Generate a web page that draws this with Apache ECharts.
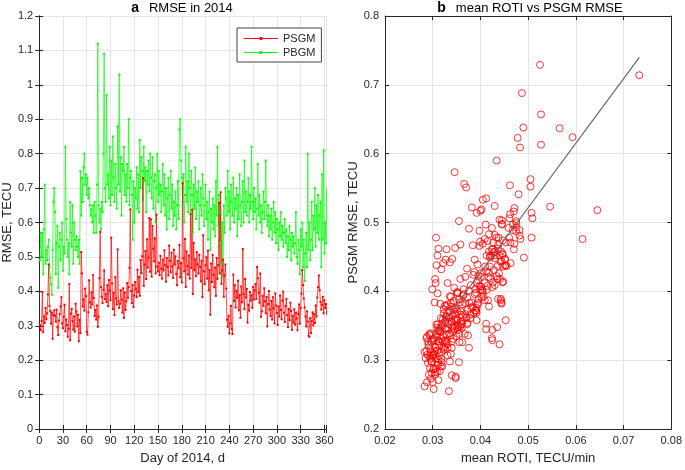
<!DOCTYPE html>
<html><head><meta charset="utf-8">
<script src="https://cdn.jsdelivr.net/npm/echarts@6/dist/echarts.min.js"></script>
<style>html,body{margin:0;padding:0;background:#fff}#c{width:685px;height:470px}</style>
</head><body><div id="c"></div>
<script>
// PSGM RMSE (TECU), day 1..365
const psgm = [
0.302,0.287,0.314,0.398,0.281,0.327,0.308,0.352,0.319,0.336,
0.391,0.478,0.358,0.343,0.306,0.338,0.262,0.331,0.345,0.329,
0.312,0.347,0.296,0.273,0.315,0.334,0.356,0.383,0.307,0.293,
0.326,0.361,0.284,0.318,0.302,0.268,0.291,0.421,0.258,0.335,
0.349,0.313,0.289,0.327,0.283,0.364,0.341,0.298,0.332,0.255,
0.317,0.279,0.514,0.452,0.356,0.377,0.344,0.408,0.386,0.282,
0.274,0.339,0.432,0.368,0.353,0.397,0.362,0.447,0.381,0.328,
0.346,0.318,0.359,0.297,0.326,0.438,0.573,0.412,0.384,0.366,
0.405,0.461,0.377,0.392,0.369,0.418,0.357,0.433,0.402,0.374,
0.556,0.423,0.348,0.396,0.331,0.441,0.379,0.362,0.522,0.371,
0.352,0.364,0.403,0.376,0.338,0.409,0.323,0.397,0.346,0.372,
0.424,0.381,0.412,0.468,0.638,0.401,0.366,0.419,0.354,0.388,
0.427,0.406,0.383,0.463,0.398,0.442,0.387,0.491,0.453,0.502,
0.729,0.416,0.478,0.517,0.436,0.551,0.469,0.498,0.613,0.457,
0.609,0.443,0.590,0.524,0.487,0.554,0.452,0.623,0.472,0.458,
0.483,0.447,0.503,0.466,0.437,0.492,0.461,0.519,0.476,0.428,
0.497,0.471,0.446,0.533,0.489,0.455,0.512,0.473,0.439,0.521,
0.478,0.502,0.451,0.418,0.488,0.467,0.535,0.441,0.482,0.426,
0.714,0.497,0.458,0.552,0.413,0.516,0.474,0.449,0.504,0.437,
0.624,0.468,0.637,0.392,0.541,0.461,0.493,0.444,0.514,0.478,
0.452,0.506,0.471,0.429,0.489,0.383,0.563,0.458,0.421,0.476,
0.499,0.437,0.518,0.403,0.462,0.332,0.481,0.427,0.506,0.448,
0.412,0.469,0.387,0.497,0.436,0.476,0.657,0.452,0.688,0.422,
0.461,0.492,0.384,0.446,0.478,0.408,0.318,0.297,0.329,0.278,
0.307,0.358,0.291,0.276,0.449,0.372,0.418,0.353,0.402,0.381,
0.431,0.345,0.389,0.323,0.414,0.368,0.523,0.392,0.348,0.436,
0.382,0.407,0.309,0.361,0.344,0.398,0.373,0.389,0.352,0.413,
0.376,0.403,0.421,0.378,0.471,0.438,0.396,0.367,0.452,0.326,
0.342,0.387,0.358,0.409,0.371,0.336,0.384,0.298,0.363,0.401,
0.347,0.328,0.372,0.318,0.383,0.351,0.307,0.394,0.359,0.337,
0.302,0.356,0.327,0.388,0.346,0.319,0.373,0.399,0.338,0.311,
0.357,0.378,0.331,0.296,0.349,0.316,0.367,0.343,0.288,0.329,
0.309,0.348,0.303,0.338,0.321,0.287,0.334,0.362,0.306,0.352,
0.393,0.462,0.418,0.379,0.353,0.327,0.298,0.342,0.312,0.271,
0.268,0.322,0.279,0.313,0.339,0.301,0.334,0.308,0.359,0.327,
0.382,0.412,0.446,0.403,0.369,0.347,0.361,0.384,0.336,0.374,
0.352,0.363,0.331,0.371,0.346
];
// PBGM RMSE (TECU), day 1..365
const pbgm = [
0.49,0.57,0.50,0.57,0.45,0.58,0.71,0.48,0.52,0.49,
0.53,0.55,0.47,0.44,0.42,0.39,0.52,0.66,0.70,0.63,
0.45,0.54,0.59,0.41,0.53,0.57,0.49,0.55,0.60,0.46,
0.53,0.51,0.82,0.61,0.55,0.50,0.54,0.45,0.66,0.57,
0.53,0.65,0.48,0.60,0.55,0.52,0.56,0.53,0.50,0.55,
0.48,0.75,0.62,0.73,0.66,0.76,0.80,0.71,0.74,0.68,
0.73,0.67,0.70,0.65,0.62,0.64,0.60,0.65,0.57,0.66,
0.62,0.57,0.71,1.12,0.65,0.60,0.64,0.58,0.66,0.63,
0.80,1.09,0.70,0.66,0.97,0.71,0.74,0.67,0.82,0.65,
0.78,0.68,0.85,0.73,0.66,0.77,0.70,0.64,0.88,0.71,
1.03,0.69,0.79,0.62,0.77,0.75,0.82,0.68,0.74,0.66,
0.77,0.70,0.90,0.65,0.73,0.75,0.68,0.55,0.72,0.60,
0.70,0.67,0.76,0.64,0.74,0.63,0.84,0.70,0.79,0.75,
0.66,0.82,0.72,0.76,0.63,0.75,0.71,0.78,0.69,0.80,
0.73,0.67,0.79,0.64,0.72,0.74,0.60,0.70,0.80,0.66,
0.75,0.68,0.71,0.63,0.69,0.77,0.65,0.74,0.62,0.70,
0.58,0.67,0.73,0.61,0.68,0.75,0.64,0.71,0.59,0.66,
0.62,0.69,0.58,0.65,0.72,0.61,0.87,0.90,0.78,0.73,
0.65,0.74,0.60,0.68,0.82,0.66,0.72,0.63,0.80,0.70,
0.62,0.75,0.68,0.57,0.71,0.64,0.76,0.61,0.69,0.66,
0.72,0.58,0.65,0.70,0.62,0.74,0.67,0.59,0.65,0.71,
0.61,0.66,0.55,0.63,0.69,0.52,0.64,0.60,0.67,0.58,
0.65,0.56,0.72,0.62,0.82,0.59,0.68,0.54,0.63,0.48,
0.60,0.44,0.65,0.57,0.70,0.67,0.62,0.75,0.63,0.69,
0.58,0.71,0.66,0.62,0.73,0.60,0.67,0.64,0.70,0.56,
0.68,0.61,0.74,0.65,0.59,0.66,0.72,0.60,0.78,0.63,
0.69,0.62,0.66,0.73,0.60,0.68,0.64,0.82,0.66,0.61,
0.70,0.63,0.67,0.58,0.64,0.77,0.62,0.68,0.60,0.65,
0.57,0.63,0.69,0.61,0.66,0.78,0.62,0.59,0.65,0.56,
0.62,0.58,0.64,0.55,0.60,0.66,0.57,0.63,0.54,0.61,
0.58,0.52,0.60,0.56,0.63,0.55,0.59,0.53,0.57,0.61,
0.54,0.58,0.50,0.56,0.52,0.59,0.55,0.49,0.57,0.53,
0.56,0.51,0.54,0.63,0.50,0.48,0.55,0.52,0.45,0.58,
0.53,0.60,0.47,0.55,0.43,0.51,0.57,0.47,0.80,0.52,
0.60,0.49,0.55,0.66,0.52,0.62,0.58,0.70,0.53,0.65,
0.57,0.68,0.55,0.62,0.66,0.47,0.74,0.55,0.81,0.51,
0.60,0.54,0.70,0.52,0.51
];
// mean ROTI (TECU/min), day 1..365
const roti = [
0.0295,0.0302,0.0310,0.0352,0.0298,0.0321,0.0289,0.0334,0.0305,0.0338,
0.0372,0.0307,0.0345,0.0312,0.0293,0.0356,0.0283,0.0318,0.0327,0.0301,
0.0318,0.0351,0.0290,0.0296,0.0325,0.0309,0.0362,0.0338,0.0300,0.0311,
0.0329,0.0347,0.0315,0.0331,0.0306,0.0288,0.0320,0.0368,0.0302,0.0349,
0.0358,0.0303,0.0294,0.0340,0.0309,0.0330,0.0316,0.0297,0.0287,0.0334,
0.0322,0.0292,0.0392,0.0310,0.0339,0.0384,0.0352,0.0398,0.0344,0.0305,
0.0348,0.0335,0.0318,0.0323,0.0361,0.0310,0.0370,0.0341,0.0331,0.0312,
0.0344,0.0306,0.0352,0.0319,0.0362,0.0308,0.0346,0.0331,0.0357,0.0378,
0.0345,0.0329,0.0381,0.0338,0.0392,0.0358,0.0327,0.0372,0.0403,0.0348,
0.0366,0.0396,0.0354,0.0365,0.0343,0.0322,0.0325,0.0371,0.0382,0.0359,
0.0372,0.0341,0.0389,0.0346,0.0367,0.0380,0.0330,0.0352,0.0327,0.0391,
0.0385,0.0362,0.0409,0.0358,0.0490,0.0376,0.0359,0.0421,0.0373,0.0355,
0.0402,0.0425,0.0368,0.0347,0.0391,0.0336,0.0416,0.0376,0.0447,0.0355,
0.0525,0.0395,0.0438,0.0400,0.0420,0.0370,0.0405,0.0445,0.0527,0.0428,
0.0483,0.0442,0.0434,0.0430,0.0475,0.0462,0.0413,0.0478,0.0399,0.0443,
0.0418,0.0452,0.0445,0.0398,0.0436,0.0424,0.0470,0.0402,0.0409,0.0387,
0.0411,0.0427,0.0388,0.0405,0.0482,0.0446,0.0462,0.0415,0.0394,0.0471,
0.0433,0.0475,0.0420,0.0441,0.0398,0.0384,0.0412,0.0463,0.0430,0.0439,
0.0733,0.0445,0.0418,0.0505,0.0426,0.0470,0.0447,0.0491,0.0440,0.0455,
0.0593,0.0437,0.0566,0.0406,0.0480,0.0424,0.0475,0.0444,0.0507,0.0460,
0.0440,0.0509,0.0453,0.0412,0.0468,0.0394,0.0505,0.0431,0.0401,0.0484,
0.0475,0.0452,0.0645,0.0400,0.0437,0.0424,0.0482,0.0418,0.0461,0.0430,
0.0392,0.0471,0.0443,0.0468,0.0410,0.0614,0.0527,0.0423,0.0487,0.0434,
0.0426,0.0459,0.0444,0.0451,0.0507,0.0415,0.0376,0.0355,0.0425,0.0340,
0.0331,0.0453,0.0317,0.0348,0.0420,0.0389,0.0436,0.0412,0.0413,0.0395,
0.0428,0.0412,0.0437,0.0440,0.0448,0.0386,0.0546,0.0402,0.0435,0.0447,
0.0444,0.0401,0.0338,0.0379,0.0425,0.0405,0.0373,0.0443,0.0359,0.0446,
0.0392,0.0365,0.0417,0.0418,0.0463,0.0452,0.0388,0.0368,0.0430,0.0356,
0.0343,0.0409,0.0392,0.0430,0.0352,0.0374,0.0381,0.0336,0.0363,0.0404,
0.0361,0.0327,0.0391,0.0340,0.0377,0.0353,0.0313,0.0364,0.0348,0.0329,
0.0318,0.0340,0.0312,0.0396,0.0333,0.0324,0.0343,0.0351,0.0307,0.0296,
0.0326,0.0339,0.0304,0.0311,0.0342,0.0295,0.0347,0.0316,0.0306,0.0325,
0.0302,0.0318,0.0285,0.0293,0.0314,0.0301,0.0322,0.0334,0.0299,0.0308,
0.0336,0.0312,0.0305,0.0328,0.0319,0.0290,0.0298,0.0311,0.0283,0.0312,
0.0300,0.0291,0.0305,0.0287,0.0296,0.0312,0.0288,0.0303,0.0321,0.0297,
0.0316,0.0306,0.0327,0.0299,0.0330,0.0309,0.0317,0.0304,0.0294,0.0323,
0.0311,0.0328,0.0300,0.0335,0.0315
];
// least-squares fit line endpoints (ROTI, RMSE)
const fitLine = [[0.0283, 0.318], [0.0733, 0.740]];
const seriesNames = ['PSGM', 'PBGM'];

const days = psgm.map((_, i) => i + 1);
const FONT = '"Liberation Sans", Arial, Helvetica, sans-serif';
const AX = '#262626';
const GRIDC = '#e6e6e6';

function baseAxis(extra) {
  return Object.assign({
    type: 'value',
    axisLine: { show: true, lineStyle: { color: AX, width: 1 } },
    axisTick: { show: true, inside: true, length: 4, lineStyle: { color: AX } },
    splitLine: { show: true, lineStyle: { color: GRIDC, width: 1 } },
    axisLabel: { color: AX, fontSize: 11, fontFamily: FONT },
    nameTextStyle: { color: AX, fontSize: 13, fontFamily: FONT },
    nameLocation: 'middle'
  }, extra);
}
function mirror(extra) {
  return Object.assign(baseAxis({}), {
    axisLabel: { show: false }, splitLine: { show: false }
  }, extra);
}
const legendIcon = 'path://M0,1.1L34,1.1L34,1.9L0,1.9Z M15.6,0L18.4,0L18.4,3L15.6,3Z';

const chart = echarts.init(document.getElementById('c'));
chart.setOption({
  animation: false,
  textStyle: { fontFamily: FONT },
  grid: [
    { left: 38, top: 16, width: 288, height: 416 },
    { left: 385, top: 16, width: 288, height: 416 }
  ],
  xAxis: [
    baseAxis({ gridIndex: 0, min: 0, max: 362, interval: 30, name: 'Day of 2014, d', nameGap: 23,
      axisLabel: { color: AX, fontSize: 11, fontFamily: FONT, margin: 6,
        formatter: v => (v % 30 === 0 ? String(v) : '') } }),
    mirror({ gridIndex: 0, position: 'top', min: 0, max: 362, interval: 30 }),
    baseAxis({ gridIndex: 1, min: 0.02, max: 0.08, interval: 0.01, name: 'mean ROTI, TECU/min', nameGap: 23,
      axisLabel: { color: AX, fontSize: 11, fontFamily: FONT, margin: 6, formatter: v => (+v).toFixed(2) } }),
    mirror({ gridIndex: 1, position: 'top', min: 0.02, max: 0.08, interval: 0.01 })
  ],
  yAxis: [
    baseAxis({ gridIndex: 0, min: 0, max: 1.2, interval: 0.1, name: 'RMSE, TECU', nameGap: 16,
      axisLabel: { color: AX, fontSize: 11, fontFamily: FONT, margin: 6, formatter: v => String(+(+v).toFixed(1)) } }),
    mirror({ gridIndex: 0, position: 'right', min: 0, max: 1.2, interval: 0.1 }),
    baseAxis({ gridIndex: 1, min: 0.2, max: 0.8, interval: 0.1, name: 'PSGM RMSE, TECU', nameGap: 22,
      axisLabel: { color: AX, fontSize: 11, fontFamily: FONT, margin: 6, formatter: v => (+v).toFixed(1) } }),
    mirror({ gridIndex: 1, position: 'right', min: 0.2, max: 0.8, interval: 0.1 })
  ],
  legend: {
    data: seriesNames.map(n => ({ name: n, icon: legendIcon })),
    orient: 'vertical',
    left: 237, top: 28,
    backgroundColor: '#fff',
    borderColor: '#444', borderWidth: 1,
    padding: [4, 6, 3, 7],
    itemWidth: 34, itemHeight: 3, itemGap: 1,
    textStyle: { fontSize: 11, color: AX, fontFamily: FONT, lineHeight: 13 }
  },
  graphic: [
    { type: 'text', x: 182, y: 8, style: { text: '{b|a}   {n|RMSE in 2014}', align: 'center', verticalAlign: 'middle',
      rich: { b: { fontSize: 14, fontWeight: 'bold', fill: '#000', fontFamily: FONT },
              n: { fontSize: 13, fill: '#000', fontFamily: FONT } } } },
    { type: 'text', x: 530, y: 8, style: { text: '{b|b}   {n|mean ROTI vs PSGM RMSE}', align: 'center', verticalAlign: 'middle',
      rich: { b: { fontSize: 14, fontWeight: 'bold', fill: '#000', fontFamily: FONT },
              n: { fontSize: 13, fill: '#000', fontFamily: FONT } } } }
  ],
  series: [
    { name: 'PBGM', type: 'line', xAxisIndex: 0, yAxisIndex: 0,
      data: days.map((d, i) => [d, pbgm[i]]),
      symbol: 'rect', symbolSize: 2, showAllSymbol: true,
      lineStyle: { color: '#00ff00', width: 0.7 }, itemStyle: { color: '#00ff00' } },
    { name: 'PSGM', type: 'line', xAxisIndex: 0, yAxisIndex: 0,
      data: days.map((d, i) => [d, psgm[i]]),
      symbol: 'rect', symbolSize: 2, showAllSymbol: true,
      lineStyle: { color: '#ff0000', width: 0.7 }, itemStyle: { color: '#ff0000' } },
    { name: 'scatter', type: 'scatter', xAxisIndex: 2, yAxisIndex: 2, z: 2,
      data: roti.map((x, i) => [x, psgm[i]]),
      symbol: 'circle', symbolSize: 7,
      itemStyle: { color: 'rgba(0,0,0,0)', borderColor: '#ff0000', borderWidth: 1 } },
    { name: 'fit', type: 'line', xAxisIndex: 2, yAxisIndex: 2, z: 10,
      data: fitLine, symbol: 'none', silent: true,
      lineStyle: { color: '#606060', width: 1.1 } }
  ]
});
</script>
</body></html>
